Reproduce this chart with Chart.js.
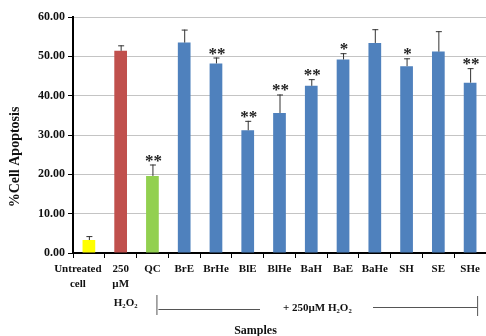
<!DOCTYPE html>
<html>
<head>
<meta charset="utf-8">
<script src="https://cdn.jsdelivr.net/npm/chart.js@4"></script>
<style>
  body { margin: 0; background: #fff; }
</style>
</head>
<body>
<canvas id="apoptosis" width="486" height="336"></canvas>
<script>
const categories = [
	["Untreated", "cell"], ["250", "µM"], "QC", "BrE", "BrHe", "BlE", "BlHe",
	"BaH", "BaE", "BaHe", "SH", "SE", "SHe"
];
const values = [3.3, 51.4, 19.6, 53.5, 48.2, 31.2, 35.6, 42.5, 49.2, 53.4, 47.5, 51.2, 43.3];
const errors = [1.0, 1.4, 2.9, 3.3, 1.5, 2.4, 4.7, 1.7, 1.6, 3.5, 2.0, 5.2, 3.7];
const stars = ["", "", "**", "", "**", "**", "**", "**", "*", "", "*", "", "**"];
const barColors = [
	"#ffff00", "#c0504d", "#92d050", "#4f81bd", "#4f81bd", "#4f81bd", "#4f81bd",
	"#4f81bd", "#4f81bd", "#4f81bd", "#4f81bd", "#4f81bd", "#4f81bd"
];

const serif = "'Liberation Serif', 'Times New Roman', serif";

// error bars (upper half only), stars, category labels and annotations
const extras = {
	id: "extras",
	afterDatasetsDraw(chart) {
		const ctx = chart.ctx;
		const x = chart.scales.x;
		const y = chart.scales.y;
		ctx.save();
		values.forEach((v, i) => {
			const px = x.getPixelForValue(i);
			const top = y.getPixelForValue(v + errors[i]);
			const base = y.getPixelForValue(v);
			ctx.strokeStyle = "#333";
			ctx.lineWidth = 1;
			ctx.beginPath();
			ctx.moveTo(px + 0.5, base);
			ctx.lineTo(px + 0.5, top);
			ctx.moveTo(px - 2.5, top + 0.5);
			ctx.lineTo(px + 3.5, top + 0.5);
			ctx.stroke();
			if (stars[i]) {
				ctx.fillStyle = "#222";
				ctx.font = "bold 17px " + serif;
				ctx.textAlign = "center";
				ctx.textBaseline = "alphabetic";
				ctx.fillText(stars[i], px + 1, top + 1);
			}
		});
		ctx.restore();
	},
	afterDraw(chart) {
		const ctx = chart.ctx;
		const x = chart.scales.x;
		const area = chart.chartArea;
		ctx.save();
		ctx.fillStyle = "#111";
		ctx.textBaseline = "middle";
		ctx.font = "bold 11px " + serif;
		ctx.textAlign = "center";

		categories.forEach((c, i) => {
			const lines = Array.isArray(c) ? c : [c];
			const nudge = i === 0 ? -11 : 0;
			lines.forEach((t, k) => {
				ctx.fillText(t, x.getPixelForValue(i) + nudge, 269 + k * 15);
			});
		});
		ctx.fillText("H₂O₂", x.getPixelForValue(1) + 5, 303);

		// bracket under the H2O2-treated samples
		const l = x.getPixelForValue(2) + 4;
		const r = x.getPixelForValue(12) + 7;
		ctx.strokeStyle = "#555";
		ctx.lineWidth = 1;
		ctx.beginPath();
		ctx.moveTo(l + 0.5, 295);
		ctx.lineTo(l + 0.5, 315);
		ctx.moveTo(l + 2, 309.5);
		ctx.lineTo(260, 309.5);
		ctx.moveTo(373, 307.5);
		ctx.lineTo(r, 307.5);
		ctx.moveTo(r + 0.5, 296);
		ctx.lineTo(r + 0.5, 316);
		ctx.stroke();
		ctx.textAlign = "left";
		ctx.fillText("+ 250µM H₂O₂", 283, 308);

		ctx.font = "bold 12px " + serif;
		ctx.textAlign = "center";
		ctx.fillText("Samples", (area.left + area.right) / 2 - 24, 331);

		// y axis title
		ctx.translate(15.5, 157);
		ctx.rotate(-Math.PI / 2);
		ctx.font = "bold 14px " + serif;
		ctx.fillText("%Cell Apoptosis", 0, 0);
		ctx.restore();
	}
};

new Chart(document.getElementById("apoptosis"), {
	type: "bar",
	plugins: [extras],
	data: {
		labels: categories,
		datasets: [
			{
				data: values,
				backgroundColor: barColors,
				barPercentage: 0.4,
				categoryPercentage: 1
			}
		]
	},
	options: {
		responsive: false,
		animation: false,
		layout: { padding: { top: 17, right: 0, left: 0, bottom: 0 } },
		plugins: {
			legend: { display: false },
			tooltip: { enabled: false }
		},
		scales: {
			x: {
				afterFit(scale) { scale.height = 83; },
				grid: {
					drawOnChartArea: false,
					tickLength: 5,
					tickColor: "#000",
					offset: true
				},
				border: { color: "#000", width: 2 },
				ticks: { display: false }
			},
			y: {
				min: 0,
				max: 60,
				afterFit(scale) { scale.width = 73; },
				grid: {
					color: "#c4c4c4",
					tickLength: 5,
					tickColor: "#000"
				},
				border: { color: "#000", width: 2 },
				ticks: {
					stepSize: 10,
					padding: 3,
					color: "#111",
					font: { family: serif, size: 12, weight: "bold" },
					callback: (v) => v.toFixed(2)
				}
			}
		}
	}
});
</script>
</body>
</html>
